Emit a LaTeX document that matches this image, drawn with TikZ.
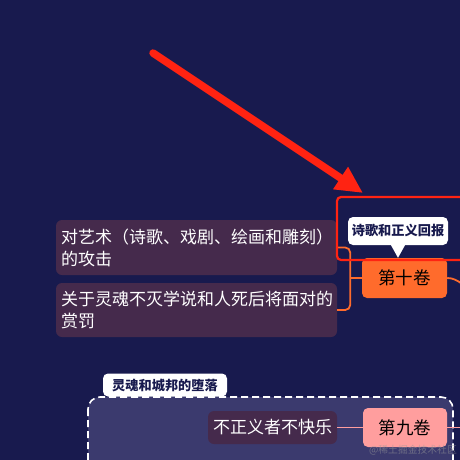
\documentclass[tikz,border=0pt]{standalone}
\usepackage{fontspec}
\setmainfont{Noto Sans CJK SC}
\usetikzlibrary{arrows.meta,positioning}

\definecolor{navy}{HTML}{181A4E}
\definecolor{tenorange}{HTML}{FF6B2C}
\definecolor{ninepink}{HTML}{FF9E9E}
\definecolor{leafpurple}{HTML}{452A4C}
\definecolor{groupfill}{HTML}{3B3A6E}
\definecolor{hintred}{HTML}{FF2312}

\begin{document}
\begin{tikzpicture}[x=1pt,y=-1pt,
    chapter/.style={rounded corners=5pt,font=\fontsize{17.5pt}{20pt}\selectfont,text=black},
    leaf/.style={rounded corners=6pt,fill=leafpurple,text=white,font=\fontsize{17pt}{22pt}\selectfont},
    label box/.style={rounded corners=5pt,fill=white,text=navy,font=\bfseries\fontsize{13.2pt}{15pt}\selectfont},
    link/.style={draw=tenorange,line width=1.8pt},
    pinklink/.style={draw=ninepink,line width=1.8pt}]

  \useasboundingbox (0,0) rectangle (460,460);
  \clip (0,0) rectangle (460,460);
  \fill[navy] (0,0) rectangle (460,460);

  % book ten
  \node[chapter,fill=tenorange,minimum width=85pt,minimum height=40pt] (ten) at (404.5,278) {第十卷};
  \node[leaf,minimum width=281pt,minimum height=55pt,text width=271pt,align=left,inner xsep=5pt] (art) at (196.5,247.5)
    {对艺术（诗歌、戏剧、绘画和雕刻）\\的攻击};
  \node[leaf,minimum width=281pt,minimum height=54pt,text width=271pt,align=left,inner xsep=5pt] (soul) at (196.5,310)
    {关于灵魂不灭学说和人死后将面对的\\赏罚};

  \draw[link,rounded corners=5pt] (art.east) -- ++(13,0) |- (soul.east);
  \draw[link] (ten.west) -- (ten.west -| 350,0);
  \coordinate (tenout) at (475,290);
  \draw[link] (ten.east) to[out=0,in=170] (tenout);

  % callout over book ten
  \draw[hintred,line width=2.2pt,rounded corners=4pt] (337,197) rectangle (490,260);
  \node[label box,minimum width=100pt,minimum height=28pt] (poem) at (398,231) {诗歌和正义回报};
  \fill[white] ([xshift=-7pt]poem.south) -- ([xshift=7pt]poem.south) -- (poem.south |- ten.north) -- cycle;

  % red hint arrow
  \coordinate (tail) at (153,53);
  \coordinate (tip) at (363,193);
  \draw[hintred,line width=7.5pt,line cap=round,-{Triangle[length=27pt,width=25pt]}] (tail) -- (tip);

  % book nine group
  \draw[white,fill=groupfill,line width=1.6pt,dash pattern=on 7pt off 4pt,rounded corners=12pt] (88,397) rectangle (453,500);
  \node[label box,minimum width=124pt,minimum height=23pt] (fall) at (165,385) {灵魂和城邦的堕落};

  \node[chapter,fill=ninepink,minimum width=84pt,minimum height=39pt] (nine) at (405,427.5) {第九卷};
  \node[leaf,minimum width=129pt,minimum height=33pt,inner xsep=3pt,font=\fontsize{17pt}{20pt}\selectfont] (unjust) at (272.5,427.5) {不正义者不快乐};
  \draw[pinklink] (unjust) -- (nine);
  \coordinate (nineout) at (475,427.5);
  \draw[pinklink] (nine.east) -- (nineout);

  \node[text=gray!80,opacity=0.55,font=\fontsize{9.8pt}{11pt}\selectfont] (mark) at (413,450) {@稀土掘金技术社区};
\end{tikzpicture}
\end{document}
